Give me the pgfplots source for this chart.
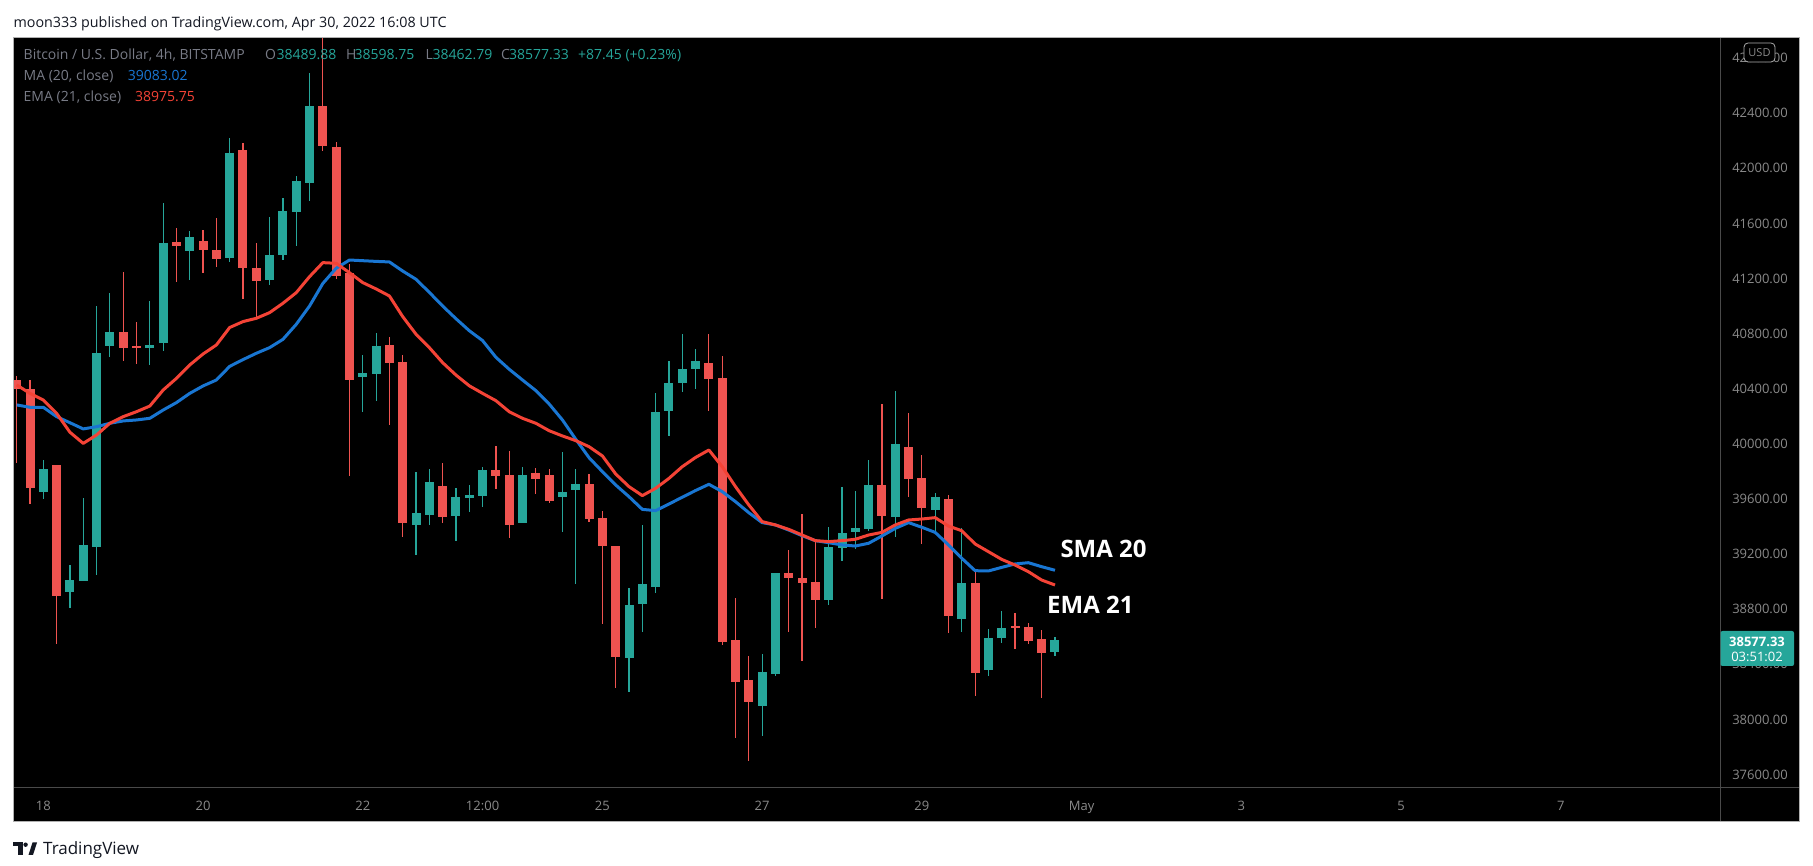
\documentclass[border=0pt]{standalone}
\usepackage{fontspec}
\setmainfont{Open Sans}
\usepackage{pgfplots}
\pgfplotsset{compat=1.18}
\usepackage{pgfplotstable}
\definecolor{cg}{HTML}{26A69A}
\definecolor{cr}{HTML}{EF5350}
\definecolor{csma}{HTML}{1976D2}
\definecolor{cema}{HTML}{F44336}
\definecolor{lg}{HTML}{787B86}
\definecolor{axg}{HTML}{8A8A8A}
\definecolor{sepc}{HTML}{4A4A4A}
\definecolor{framec}{HTML}{B0B0B0}
\definecolor{hdr}{HTML}{131722}

\pgfplotstableread{
i o h l c
2 39654 39883 39600 39818
4 38928 39121 38812 39012
5 39008 39608 39005 39266
6 39254 41001 39049 40660
7 40713 41096 40634 40812
10 40699 41040 40576 40718
11 40733 41749 40677 41459
13 41400 41546 41192 41502
16 41352 42221 41323 42112
19 41190 41647 41154 41371
20 41371 41785 41335 41691
21 41684 41945 41437 41909
22 41897 42693 41766 42453
26 40488 40646 40234 40515
27 40510 40803 40314 40711
30 39414 39796 39196 39499
31 39487 39818 39414 39721
33 39480 39680 39298 39615
34 39610 39702 39509 39629
35 39625 39835 39545 39811
38 39429 39833 39429 39775
41 39617 39942 39363 39651
42 39668 39818 38986 39709
46 38449 38954 38200 38831
47 38841 39412 38637 38983
48 38964 40367 38921 40229
49 40241 40602 40060 40442
50 40445 40798 40379 40544
51 40546 40689 40401 40602
56 38100 38475 37883 38345
57 38333 39063 38318 39063
61 38870 39397 38834 39252
62 39247 39688 39153 39354
63 39363 39658 39240 39390
64 39383 39883 39371 39702
66 39472 40384 39327 40000
69 39521 39646 39363 39617
71 38732 39388 38637 38991
73 38362 38654 38318 38592
74 38594 38785 38553 38664
78 38489.88 38598.75 38462.79 38577.33
}\gtab

\pgfplotstableread{
i o h l c
0 40464 40493 39859 40396
1 40396 40464 39564 39683
3 39847 39850 38550 38899
8 40812 41248 40605 40699
9 40709 40885 40583 40699
12 41463 41567 41178 41439
14 41473 41553 41243 41408
15 41408 41640 41287 41342
17 42134 42182 41055 41280
18 41277 41459 40904 41185
23 42453 42980 42129 42165
24 42155 42192 41200 41221
25 41241 41304 39770 40467
28 40718 40776 40140 40590
29 40592 40646 39327 39429
32 39695 39859 39424 39472
36 39811 39985 39676 39770
37 39775 39949 39320 39414
39 39789 39825 39639 39748
40 39775 39818 39574 39588
43 39709 39782 39436 39458
44 39462 39513 38696 39262
45 39259 39260 38230 38456
52 40588 40798 40241 40474
53 40479 40638 38543 38565
54 38577 38882 37868 38275
55 38287 38461 37701 38129
58 39063 39230 38637 39029
59 39027 39491 38427 38993
60 38998 39310 38667 38870
65 39702 40290 38877 39479
67 39978 40225 39617 39748
68 39753 39920 39276 39537
70 39600 39629 38625 38754
72 38991 39068 38173 38335
75 38674 38770 38514 38669
76 38671 38700 38550 38572
77 38584 38650 38158 38485
}\rtab

\pgfplotstableread{
i sma ema
0 40283 40428
1 40266 40367
2 40266 40319
3 40198 40222
4 40154 40085
5 40109 40004
6 40125 40065
7 40150 40150
8 40167 40198
9 40174 40234
10 40186 40275
11 40246 40391
12 40300 40476
13 40367 40573
14 40421 40653
15 40464 40718
16 40563 40845
17 40612 40888
18 40658 40912
19 40699 40953
20 40759 41021
21 40868 41098
22 41001 41214
23 41165 41316
24 41275 41311
25 41335 41243
26 41330 41171
27 41325 41125
28 41321 41074
29 41255 40924
30 41195 40796
31 41100 40699
32 41001 40590
33 40909 40500
34 40822 40422
35 40750 40367
36 40629 40314
37 40542 40234
38 40464 40186
39 40387 40150
40 40290 40096
41 40174 40058
42 40034 40024
43 39900 39980
44 39799 39913
45 39702 39782
46 39617 39690
47 39525 39625
48 39516 39678
49 39564 39750
50 39613 39835
51 39662 39902
52 39707 39956
53 39654 39835
54 39581 39690
55 39501 39557
56 39429 39436
57 39412 39412
58 39375 39380
59 39334 39339
60 39298 39298
61 39283 39291
62 39267 39298
63 39259 39308
64 39279 39339
65 39332 39358
66 39387 39412
67 39429 39448
68 39395 39455
69 39358 39465
70 39267 39404
71 39170 39370
72 39080 39274
73 39078 39218
74 39104 39162
75 39129 39121
76 39138 39073
77 39109 39012
78 39083 38976
}\matab

\begin{document}
\begin{tikzpicture}[x=1bp,y=1bp]
\fill[white] (0,0) rectangle (1813,866);
\useasboundingbox (0,0) rectangle (1813,866);
\fill[black] (13.5,44) rectangle (1799,828);
\begin{axis}[
  at={(13.5bp,78bp)}, anchor=south west,
  scale only axis, width=1707bp, height=750bp,
  xmin=-0.24, xmax=128.0, ymin=37502.7, ymax=42946.6,
  axis background/.style={fill=black},
  axis line style={draw=none},
  major tick length=0pt,
  tick style={draw=none},
  scaled y ticks=false,
  ytick={37600,38000,...,42800},
  yticklabel pos=right,
  /pgf/number format/assume math mode=true,
  yticklabel style={/pgf/number format/.cd, fixed, fixed zerofill, precision=2, 1000 sep={}, /tikz/.cd,
    anchor=base west, inner sep=0pt, xshift=11.5bp, yshift=-4.6bp,
    font=\fontsize{13bp}{15bp}\selectfont, text=axg},
  xtick={2,14,26,35,44,56,68,80,92,104,116},
  xticklabels={18,20,22,12:00,25,27,29,May,3,5,7},
  xticklabel style={anchor=base, inner sep=0pt, yshift=-22.7bp,
    font=\fontsize{13bp}{15bp}\selectfont, text=axg},
]
% wicks
\addplot[draw=none, mark=none, forget plot,
  error bars/.cd, y dir=both, y explicit, error mark=none,
  error bar style={draw=cg, line width=1.2bp}]
  table[x=i, y expr={0.5*(\thisrow{h}+\thisrow{l})}, y error expr={0.5*(\thisrow{h}-\thisrow{l})}] {\gtab};
\addplot[draw=none, mark=none, forget plot,
  error bars/.cd, y dir=both, y explicit, error mark=none,
  error bar style={draw=cr, line width=1.2bp}]
  table[x=i, y expr={0.5*(\thisrow{h}+\thisrow{l})}, y error expr={0.5*(\thisrow{h}-\thisrow{l})}] {\rtab};
% bodies
\addplot[draw=none, mark=none, forget plot,
  error bars/.cd, y dir=both, y explicit, error mark=none,
  error bar style={draw=cg, line width=9bp}]
  table[x=i, y expr={0.5*(\thisrow{o}+\thisrow{c})}, y error expr={max(0.5*abs(\thisrow{c}-\thisrow{o}),3.7)}] {\gtab};
\addplot[draw=none, mark=none, forget plot,
  error bars/.cd, y dir=both, y explicit, error mark=none,
  error bar style={draw=cr, line width=9bp}]
  table[x=i, y expr={0.5*(\thisrow{o}+\thisrow{c})}, y error expr={max(0.5*abs(\thisrow{c}-\thisrow{o}),3.7)}] {\rtab};
% moving averages
\addplot[csma, line width=3bp, line join=round, mark=none] table[x=i, y=sma] {\matab};
\addplot[cema, line width=3bp, line join=round, mark=none] table[x=i, y=ema] {\matab};
% annotations
\node[anchor=west, inner sep=0pt, text=white, font=\bfseries\fontsize{24bp}{26bp}\selectfont] at (axis cs:78.4,39237) {SMA 20};
\node[anchor=west, inner sep=0pt, text=white, font=\bfseries\fontsize{24bp}{26bp}\selectfont] at (axis cs:77.4,38831) {EMA 21};
\end{axis}
% separators and frame
\draw[sepc, line width=1bp] (1720.5,44) -- (1720.5,828);
\draw[sepc, line width=1bp] (13.5,78) -- (1799,78);
\draw[framec, line width=1bp] (13.5,44) rectangle (1799,828);
% header
\node[anchor=base west, inner sep=0pt, text=hdr, font=\fontsize{14.3bp}{17bp}\selectfont] at (13.4,838.4) {moon333 published on TradingView.com, Apr 30, 2022 16:08 UTC};
% legend
\begin{scope}[every node/.style={anchor=base west, inner sep=0pt, font=\fontsize{14bp}{17bp}\selectfont}]
\node[text=lg] at (23.5,806.7) {Bitcoin / U.S. Dollar, 4h, BITSTAMP};
\node[text=lg] at (265,806.7) {O};
\node[text=cg] at (276.5,806.7) {38489.88};
\node[text=lg] at (346,806.7) {H};
\node[text=cg] at (354.5,806.7) {38598.75};
\node[text=lg] at (425.5,806.7) {L};
\node[text=cg] at (432.5,806.7) {38462.79};
\node[text=lg] at (501,806.7) {C};
\node[text=cg] at (509,806.7) {38577.33};
\node[text=cg] at (578,806.7) {+87.45 (+0.23\%)};
\node[text=lg] at (23.5,785.3) {MA (20, close)};
\node[text=csma] at (127.7,785.3) {39083.02};
\node[text=lg] at (23.5,764.7) {EMA (21, close)};
\node[text=cema] at (135,764.7) {38975.75};
\end{scope}
% USD badge
\draw[axg!70, rounded corners=4bp, fill=black, line width=0.8bp] (1744,804) rectangle (1775,823);
\node[text=axg, inner sep=0pt, font=\fontsize{11bp}{13bp}\selectfont] at (1759.5,813.5) {USD};
% price badge
\fill[cg, rounded corners=2bp] (1720.5,200) rectangle (1794,235);
\node[anchor=base, inner sep=0pt, text=white, font=\bfseries\fontsize{13bp}{15bp}\selectfont] at (1757,219) {38577.33};
\node[anchor=base, inner sep=0pt, text=white, font=\fontsize{13bp}{15bp}\selectfont] at (1757,204) {03:51:02};
% logo
\fill[hdr] (13.2,19.5) rectangle (22.5,23.5);
\fill[hdr] (18.3,11) rectangle (22.5,23.5);
\fill[hdr] (25.6,21.3) circle (2.2);
\fill[hdr] (28.5,11) -- (33,11) -- (37,23.5) -- (32.5,23.5) -- cycle;
\node[anchor=base west, inner sep=0pt, text=hdr, font=\fontsize{17bp}{20bp}\selectfont] at (43,11) {TradingView};
\end{tikzpicture}
\end{document}
